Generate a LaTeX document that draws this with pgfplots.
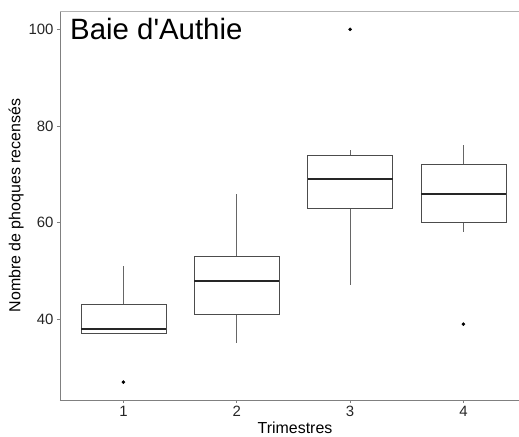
\documentclass[border=0pt]{standalone}
\usepackage{fontspec}
\setmainfont{Liberation Sans}
\usepackage{pgfplots}
\pgfplotsset{compat=1.18}
\usepgfplotslibrary{statistics}

\begin{document}
\begin{tikzpicture}
\begin{axis}[
    at={(0,0)}, anchor=south west,
    scale only axis, width=459bp, height=389bp,
    xmin=0.44, xmax=4.49, ymin=23.3, ymax=103.8,
    axis x line*=bottom, axis y line*=left,
    axis line style={-, black!50, line width=0.8bp},
    xtick={1,2,3,4}, ytick={40,60,80,100},
    tick align=outside, major tick length=3bp,
    tick style={black!50, line width=0.8bp},
    every tick label/.append style={font=\fontsize{15}{18}\selectfont, text=black!85},
    /pgf/number format/assume math mode=true,
    xlabel={Trimestres},
    ylabel={Nombre de phoques recensés},
    label style={font=\fontsize{16}{19}\selectfont},
    xlabel style={at={(ticklabel cs:0.512)}, anchor=north, yshift=2bp},
    ylabel style={yshift=-2bp},
    title={Baie d\textquotesingle Authie},
    title style={at={(0,1)}, anchor=base west, xshift=6.7bp, yshift=-34.3bp,
        font=\fontsize{29.5}{34}\selectfont},
    boxplot/draw direction=y,
    boxplot/box extend=0.75,
    boxplot/whisker extend=0,
    boxplot/every box/.style={draw=black!70, line width=0.9bp, fill=white},
    boxplot/every whisker/.style={draw=black!60, line width=0.9bp},
    boxplot/every median/.style={draw=black!85, line width=1.8bp},
]
\draw[black!30, line width=0.8bp] (rel axis cs:0,1) -- (rel axis cs:1,1);

\addplot[mark=*, mark size=1.6bp, mark options={fill=black, draw=black},
    boxplot prepared={draw position=1, lower whisker=37, lower quartile=37,
        median=38, upper quartile=43, upper whisker=51}]
    table[row sep=\\, y index=0] {data\\ 27\\};

\addplot[mark=*, mark size=1.6bp, mark options={fill=black, draw=black},
    boxplot prepared={draw position=2, lower whisker=35, lower quartile=41,
        median=48, upper quartile=53, upper whisker=66}]
    coordinates {};

\addplot[mark=*, mark size=1.6bp, mark options={fill=black, draw=black},
    boxplot prepared={draw position=3, lower whisker=47, lower quartile=63,
        median=69, upper quartile=74, upper whisker=75}]
    table[row sep=\\, y index=0] {data\\ 100\\};

\addplot[mark=*, mark size=1.6bp, mark options={fill=black, draw=black},
    boxplot prepared={draw position=4, lower whisker=58, lower quartile=60,
        median=66, upper quartile=72, upper whisker=76}]
    table[row sep=\\, y index=0] {data\\ 39\\};
\end{axis}
\pgfresetboundingbox
\path (-60bp,-37bp) rectangle (459bp,400bp);
\end{tikzpicture}
\end{document}
